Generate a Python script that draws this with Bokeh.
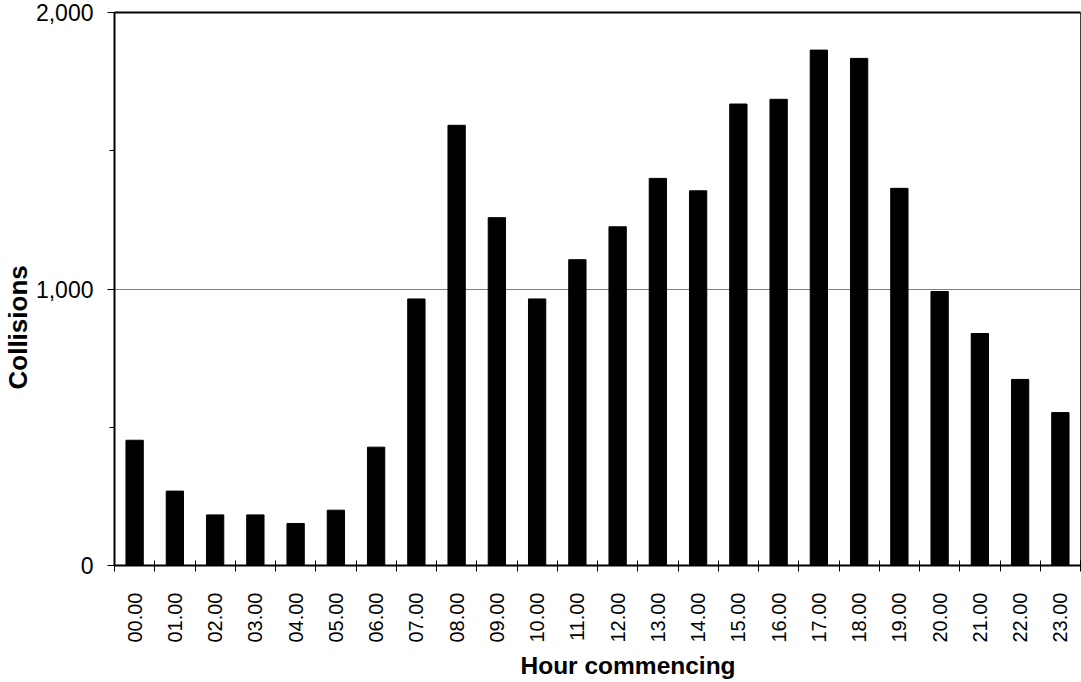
import math
from bokeh.plotting import figure
from bokeh.models import Range1d, LinearAxis, FixedTicker, NumeralTickFormatter, Title, Grid
from bokeh.embed import file_html
from bokeh.resources import INLINE

hours = ["00.00", "01.00", "02.00", "03.00", "04.00", "05.00", "06.00", "07.00",
         "08.00", "09.00", "10.00", "11.00", "12.00", "13.00", "14.00", "15.00",
         "16.00", "17.00", "18.00", "19.00", "20.00", "21.00", "22.00", "23.00"]
collisions = [453, 269, 183, 183, 152, 200, 428, 964, 1592, 1258, 964, 1106,
              1225, 1400, 1355, 1669, 1686, 1864, 1834, 1364, 991, 839, 673, 553]
y_ticks = [0, 1000, 2000]
y_minor = [500, 1500]
x_title = "Hour commencing"
y_title = "Collisions"

FONT = "Liberation Sans"
n = len(hours)
pos = list(range(n))

p = figure(width=1081, height=682,
           x_range=Range1d(-0.5, n - 0.5), y_range=Range1d(y_ticks[0], y_ticks[-1]),
           output_backend="svg", toolbar_location=None,
           x_axis_type=None, y_axis_type=None,
           min_border_left=112, min_border_right=1, min_border_top=12, min_border_bottom=114)
p.background_fill_color = "white"
p.border_fill_color = "white"
p.outline_line_color = "#404040"
p.outline_line_width = 1

p.vbar(x=pos, top=collisions, width=0.43, fill_color="black", line_color="black")

xaxis = LinearAxis(
    ticker=FixedTicker(ticks=pos, minor_ticks=[i - 0.5 for i in range(n + 1)]),
    major_label_overrides={i: h for i, h in zip(pos, hours)},
    axis_line_width=2, axis_line_color="black",
    major_tick_in=0, major_tick_out=0,
    minor_tick_in=5, minor_tick_out=6, minor_tick_line_color="black", minor_tick_line_width=1,
    major_label_orientation=math.pi / 2, major_label_standoff=21,
    major_label_text_font=FONT, major_label_text_font_size="20px",
    major_label_text_color="black")
p.add_layout(xaxis, "below")

yaxis = LinearAxis(
    ticker=FixedTicker(ticks=y_ticks, minor_ticks=y_minor),
    formatter=NumeralTickFormatter(format="0,0"),
    axis_line_width=2, axis_line_color="black",
    major_tick_in=0, major_tick_out=7, major_tick_line_color="black", major_tick_line_width=1,
    minor_tick_in=0, minor_tick_out=5, minor_tick_line_color="black", minor_tick_line_width=1,
    major_label_standoff=14,
    major_label_text_font=FONT, major_label_text_font_size="23px",
    major_label_text_color="black")
p.add_layout(yaxis, "left")

top_axis = LinearAxis(ticker=FixedTicker(ticks=[]), axis_line_width=2, axis_line_color="black",
                      major_tick_in=0, major_tick_out=0, minor_tick_in=0, minor_tick_out=0,
                      major_label_text_font_size="0px")
p.add_layout(top_axis, "above")

p.add_layout(Grid(dimension=1, ticker=yaxis.ticker, grid_line_color="#808080", grid_line_width=1))

p.add_layout(Title(text=x_title, text_font=FONT, text_font_size="24.5px", text_font_style="bold",
                   align="left", offset=406, standoff=8, text_color="black"), "below")
p.add_layout(Title(text=y_title, text_font=FONT, text_font_size="26px", text_font_style="bold",
                   align="left", offset=176, standoff=0, text_color="black"), "left")

open("out.html", "w").write(file_html(p, INLINE))
